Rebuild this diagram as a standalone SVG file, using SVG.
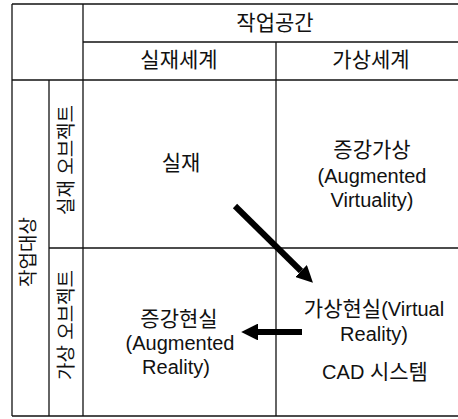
<svg xmlns="http://www.w3.org/2000/svg" width="458" height="419" viewBox="0 0 458 419">
  <style>
    .grid { stroke: #111; stroke-width: 1.3; fill: none; }
    .t { font-family: "Liberation Sans", "Noto Sans CJK KR", sans-serif; font-size: 20px; fill: #111; text-anchor: middle; }
    .k { font-size: 21px; }
    .vt { font-size: 19px; }
    .arrow { stroke: #000; stroke-width: 6; fill: none; marker-end: url(#head); }
  </style>
  <defs>
    <marker id="head" viewBox="0 0 10 10" refX="0" refY="5" markerWidth="2.8" markerHeight="2.8" orient="auto" markerUnits="strokeWidth">
      <path d="M0,0 L10,5 L0,10 z" fill="#000"/>
    </marker>
  </defs>
  <rect x="0" y="0" width="458" height="419" fill="#fff"/>

  <g id="table-grid" class="grid">
    <line x1="12" y1="4" x2="458" y2="4"/>
    <line x1="83" y1="42" x2="458" y2="42"/>
    <line x1="12" y1="80" x2="458" y2="80"/>
    <line x1="49" y1="248" x2="458" y2="248"/>
    <line x1="12" y1="416" x2="458" y2="416"/>
    <line x1="12" y1="4" x2="12" y2="416"/>
    <line x1="49" y1="80" x2="49" y2="416"/>
    <line x1="83" y1="4" x2="83" y2="416"/>
    <line x1="276" y1="42" x2="276" y2="416"/>
  </g>

  <g id="header-workspace"><text class="t k" x="275" y="30">작업공간</text></g>
  <g id="header-real-world"><text class="t k" x="179" y="67">실재세계</text></g>
  <g id="header-virtual-world"><text class="t k" x="371" y="67">가상세계</text></g>
  <g id="header-work-object"><text class="t vt" transform="translate(35,252) rotate(-90)">작업대상</text></g>
  <g id="header-real-object"><text class="t vt" transform="translate(73,160) rotate(-90)">실재 오브젝트</text></g>
  <g id="header-virtual-object"><text class="t vt" transform="translate(73,325) rotate(-90)">가상 오브젝트</text></g>

  <g id="cell-real"><text class="t k" x="181" y="170">실재</text></g>
  <g id="cell-augmented-virtuality">
    <text class="t k" x="372" y="157">증강가상</text>
    <text class="t" x="372" y="183">(Augmented</text>
    <text class="t" x="372" y="207">Virtuality)</text>
  </g>
  <g id="cell-augmented-reality">
    <text class="t k" x="179" y="326">증강현실</text>
    <text class="t" x="180" y="350">(Augmented</text>
    <text class="t" x="176" y="374">Reality)</text>
  </g>
  <g id="cell-virtual-reality">
    <text class="t" x="374" y="316"><tspan class="k">가상현실</tspan>(Virtual</text>
    <text class="t" x="374" y="341">Reality)</text>
    <text class="t" x="375" y="379">CAD <tspan class="k">시스템</tspan></text>
  </g>

  <g id="connectors">
    <line class="arrow" x1="235" y1="206" x2="301" y2="271"/>
    <line class="arrow" x1="302" y1="332" x2="258" y2="332"/>
  </g>
</svg>
